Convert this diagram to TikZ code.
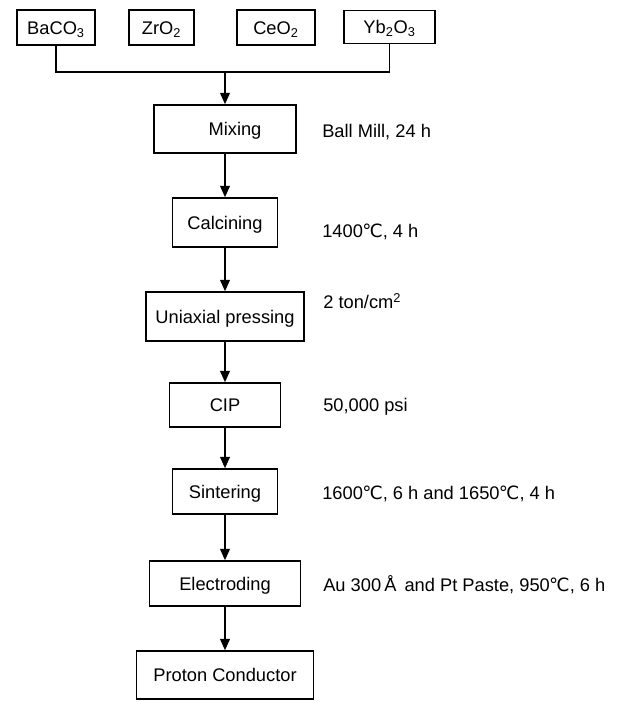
\documentclass[tikz,border=0pt]{standalone}
\usepackage{fontspec}
\setmainfont{Liberation Sans}
\newfontfamily\degfont{DejaVu Sans}
\usepackage{tikz}
\usetikzlibrary{arrows.meta,calc,positioning}
\newcommand{\degC}{{\degfont\kern-0.5pt℃}}

\begin{document}
\begin{tikzpicture}[x=0.025cm, y=-0.025cm,
    font=\fontsize{13}{15}\selectfont,
    stepbox/.style={draw, line width=1.2pt, inner sep=0pt, minimum height=1.2cm,
      text height=0.95em, text depth=0pt},
    raw/.style={stepbox, minimum height=0.875cm},
    cond/.style={anchor=west, inner sep=0pt},
    flow/.style={line width=0.9pt, -{Triangle[length=8pt,width=7pt]}}]
            % Frame of the page
            \useasboundingbox (0,0) rectangle (630,702);
            % Raw powders
            \node[raw, minimum width=1.95cm] (baco) at (56,27.5) {BaCO\textsubscript{3}};
            \node[raw, minimum width=1.625cm] (zro) at (161.5,27.5) {ZrO\textsubscript{2}};
            \node[raw, minimum width=1.95cm] (ceo) at (276,27.5) {CeO\textsubscript{2}};
            \node[raw, minimum width=2.275cm, minimum height=0.825cm] (ybo) at (389.5,27) {Yb\textsubscript{2}O\textsubscript{3}};
            % Process steps
            \node[stepbox, minimum width=3.55cm] (mix) at (225,129) {\hspace{0.5cm}Mixing};
            \node[stepbox, minimum width=2.625cm, minimum height=1.225cm] (calc) at (225,222.5) {Calcining};
            \node[stepbox, minimum width=3.95cm, minimum height=1.225cm] (press) at (225,316.5) {Uniaxial pressing};
            \node[stepbox, minimum width=2.775cm, minimum height=1.1cm] (cip) at (225,405) {CIP};
            \node[stepbox, minimum width=2.625cm, minimum height=1.125cm] (sinter) at (225,491.5) {Sintering};
            \node[stepbox, minimum width=3.775cm, minimum height=1.125cm] (electrode) at (225,583.5) {Electroding};
            \node[stepbox, minimum width=4.425cm] (proton) at (225,675) {Proton Conductor};
            % Conditions
            \node[cond] (cmix) at (322,132) {Ball Mill, 24 h};
            \node[cond] (ccalc) at (322,232) {1400\degC, 4 h};
            \node[cond] (cpress) at (323,301) {2 ton/cm\textsuperscript{2}};
            \node[cond] (ccip) at (323,407) {50,000 psi};
            \node[cond] (csinter) at (322,494) {1600\degC, 6 h and 1650\degC, 4 h};
            \node[cond] (celectrode) at (323,585) {Au 300\,Å\, and Pt Paste, 950\degC, 6 h};
            % Join the powders
            \coordinate (join) at (225,72);
            \draw[line width=0.9pt] (baco.south) |- (join) -| (ybo.south);
            % Arrows down the chain
            \draw[flow] (join) -- (mix.north);
            \draw[flow] (mix) -- (calc);
            \draw[flow] (calc) -- (press);
            \draw[flow] (press) -- (cip);
            \draw[flow] (cip) -- (sinter);
            \draw[flow] (sinter) -- (electrode);
            \draw[flow] (electrode) -- (proton);
\end{tikzpicture}
\end{document}
